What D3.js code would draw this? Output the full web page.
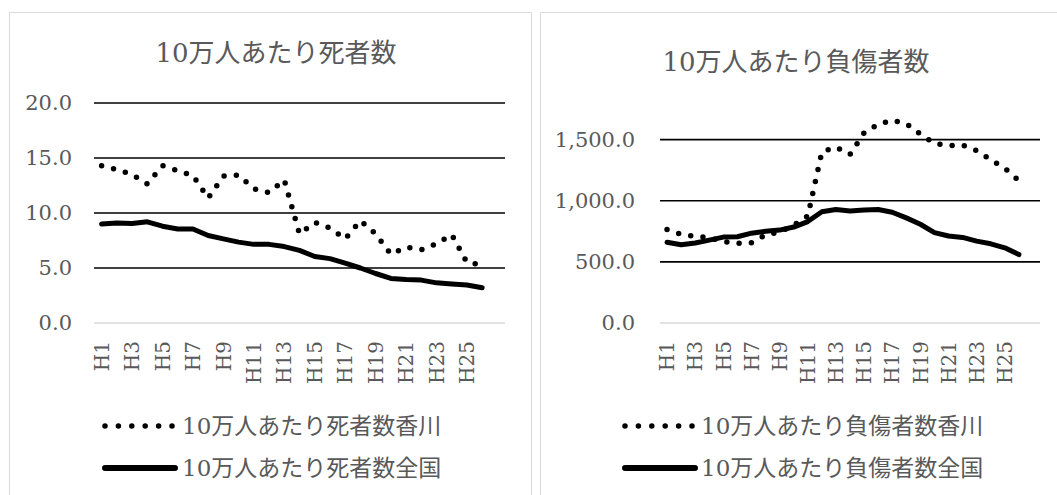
<!DOCTYPE html>
<html>
<head>
<meta charset="utf-8">
<script src="https://cdn.jsdelivr.net/npm/d3@7"></script>
<style>
  html, body { margin: 0; padding: 0; background: #ffffff; }
  svg { display: block; }
  text { font-family: "DejaVu Serif", "Noto Sans CJK JP", serif; fill: #595959; }
</style>
</head>
<body>
<svg id="chart" width="1057" height="495"></svg>
<script>
// Fiscal years (Heisei era)
const categories = ["H1","H2","H3","H4","H5","H6","H7","H8","H9","H10","H11","H12","H13",
                    "H14","H15","H16","H17","H18","H19","H20","H21","H22","H23","H24","H25","H26"];

// Deaths per 100,000 people
const deathKagawa   = [14.3, 13.95, 13.5, 12.65, 14.3, 13.85, 13.4, 11.35, 13.35, 13.45, 12.2, 11.85, 13.0,
                       8.1, 9.15, 8.65, 7.65, 9.3, 8.1, 6.25, 6.9, 6.65, 7.2, 8.05, 5.5, 5.3];
const deathNational = [9.0, 9.1, 9.05, 9.2, 8.8, 8.55, 8.55, 7.95, 7.65, 7.35, 7.15, 7.15, 6.95,
                       6.6, 6.05, 5.85, 5.45, 5.0, 4.5, 4.05, 3.95, 3.9, 3.65, 3.55, 3.45, 3.2];

// Injuries per 100,000 people
const injuryKagawa   = [765, 725, 708, 700, 665, 652, 657, 720, 745, 800, 875, 1400, 1440,
                        1380, 1555, 1625, 1660, 1630, 1545, 1470, 1450, 1455, 1410, 1335, 1265, 1165];
const injuryNational = [660, 640, 655, 678, 703, 706, 735, 750, 760, 785, 830, 910, 928,
                        916, 925, 928, 906, 860, 808, 740, 712, 700, 670, 648, 615, 560];

// Axis ticks
const deathTicks  = [0, 5, 10, 15, 20];
const injuryTicks = [0, 500, 1000, 1500];

// Titles and legend labels
const deathTitle  = "10万人あたり死者数";
const injuryTitle = "10万人あたり負傷者数";
const deathLegend  = ["10万人あたり死者数香川", "10万人あたり死者数全国"];
const injuryLegend = ["10万人あたり負傷者数香川", "10万人あたり負傷者数全国"];

const svg = d3.select("#chart");

const panels = [
  {
    box: { x: 9.5, y: 12.5, w: 522, h: 500 },
    title: deathTitle, titleX: 276, titleY: 53,
    plot: { x0: 94, x1: 505, top: 103, bottom: 323 },
    yMax: 20, ticks: deathTicks, fmt: d3.format(".1f"), tickPad: 22,
    series: [deathKagawa, deathNational],
    legend: deathLegend,
    legendX: 105, legendTextX: 182, legendY: [426, 468]
  },
  {
    box: { x: 540.5, y: 12.5, w: 540, h: 500 },
    title: injuryTitle, titleX: 796, titleY: 62,
    plot: { x0: 660, x1: 1040, top: 103, bottom: 323 },
    yMax: 1800, ticks: injuryTicks, fmt: d3.format(",.1f"), tickPad: 25,
    series: [injuryKagawa, injuryNational],
    legend: injuryLegend,
    legendX: 625, legendTextX: 701, legendY: [426, 468]
  }
];

// Line styles: Kagawa dotted, national solid
const styles = [
  { width: 5.5, dash: "0 12.3", cap: "round", markerLen: 67 },
  { width: 5, dash: null, cap: "round", markerLen: 70 }
];

panels.forEach(p => {
  const g = svg.append("g");

  // Chart frame
  g.append("rect")
    .attr("x", p.box.x).attr("y", p.box.y)
    .attr("width", p.box.w).attr("height", p.box.h)
    .attr("fill", "#ffffff").attr("stroke", "#d9d9d9").attr("stroke-width", 1);

  // Title
  g.append("text")
    .attr("x", p.titleX).attr("y", p.titleY)
    .attr("text-anchor", "middle").attr("dominant-baseline", "central")
    .style("font-size", "26px")
    .text(p.title);

  // Scales: one spare category slot on the right, as in the plot area
  const x = d3.scaleBand().domain(categories.concat([""])).range([p.plot.x0, p.plot.x1]);
  const y = d3.scaleLinear().domain([0, p.yMax]).range([p.plot.bottom, p.plot.top]);
  const cx = c => x(c) + x.bandwidth() / 2;

  // Horizontal gridlines
  g.append("g").selectAll("line").data(p.ticks).join("line")
    .attr("x1", p.plot.x0).attr("x2", p.plot.x1)
    .attr("y1", d => y(d)).attr("y2", d => y(d))
    .attr("stroke", d => d === 0 ? "#d9d9d9" : "#000000")
    .attr("stroke-width", d => d === 0 ? 1.5 : 1.6);

  // Y axis labels
  const yAxis = g.append("g")
    .attr("transform", `translate(${p.plot.x0},0)`)
    .call(d3.axisLeft(y).tickValues(p.ticks).tickSize(0).tickPadding(p.tickPad).tickFormat(p.fmt));
  yAxis.select(".domain").remove();
  yAxis.selectAll("text")
    .style("font-size", "21px").style("font-family", "\"DejaVu Serif\", serif").attr("fill", "#595959");

  // X axis labels, every other year, rotated
  const xAxis = g.append("g")
    .attr("transform", `translate(0,${p.plot.bottom})`)
    .call(d3.axisBottom(x).tickValues(categories.filter((d, i) => i % 2 === 0)).tickSize(0));
  xAxis.select(".domain").remove();
  xAxis.selectAll("text")
    .attr("transform", "rotate(-90)")
    .attr("x", -18).attr("y", 0).attr("dy", "0.36em")
    .attr("text-anchor", "end")
    .style("font-size", "20px").style("font-family", "\"DejaVu Serif\", serif").attr("fill", "#595959");

  // Data lines
  const line = d3.line().x((d, i) => cx(categories[i])).y(d => y(d));
  p.series.forEach((vals, k) => {
    const s = styles[k];
    g.append("path")
      .datum(vals)
      .attr("d", line)
      .attr("fill", "none")
      .attr("stroke", "#000000")
      .attr("stroke-width", s.width)
      .attr("stroke-linecap", s.cap)
      .attr("stroke-linejoin", "round")
      .attr("stroke-dasharray", s.dash);
  });

  // Legend
  p.legend.forEach((label, k) => {
    const s = styles[k];
    const ly = p.legendY[k];
    g.append("line")
      .attr("x1", p.legendX).attr("x2", p.legendX + s.markerLen)
      .attr("y1", ly).attr("y2", ly)
      .attr("stroke", "#000000")
      .attr("stroke-width", k === 0 ? 5.5 : 6)
      .attr("stroke-linecap", "round")
      .attr("stroke-dasharray", k === 0 ? "0 13.4" : null);
    g.append("text")
      .attr("x", p.legendTextX).attr("y", ly)
      .attr("dominant-baseline", "central")
      .style("font-size", "23px")
      .text(label);
  });
});
</script>
</body>
</html>
